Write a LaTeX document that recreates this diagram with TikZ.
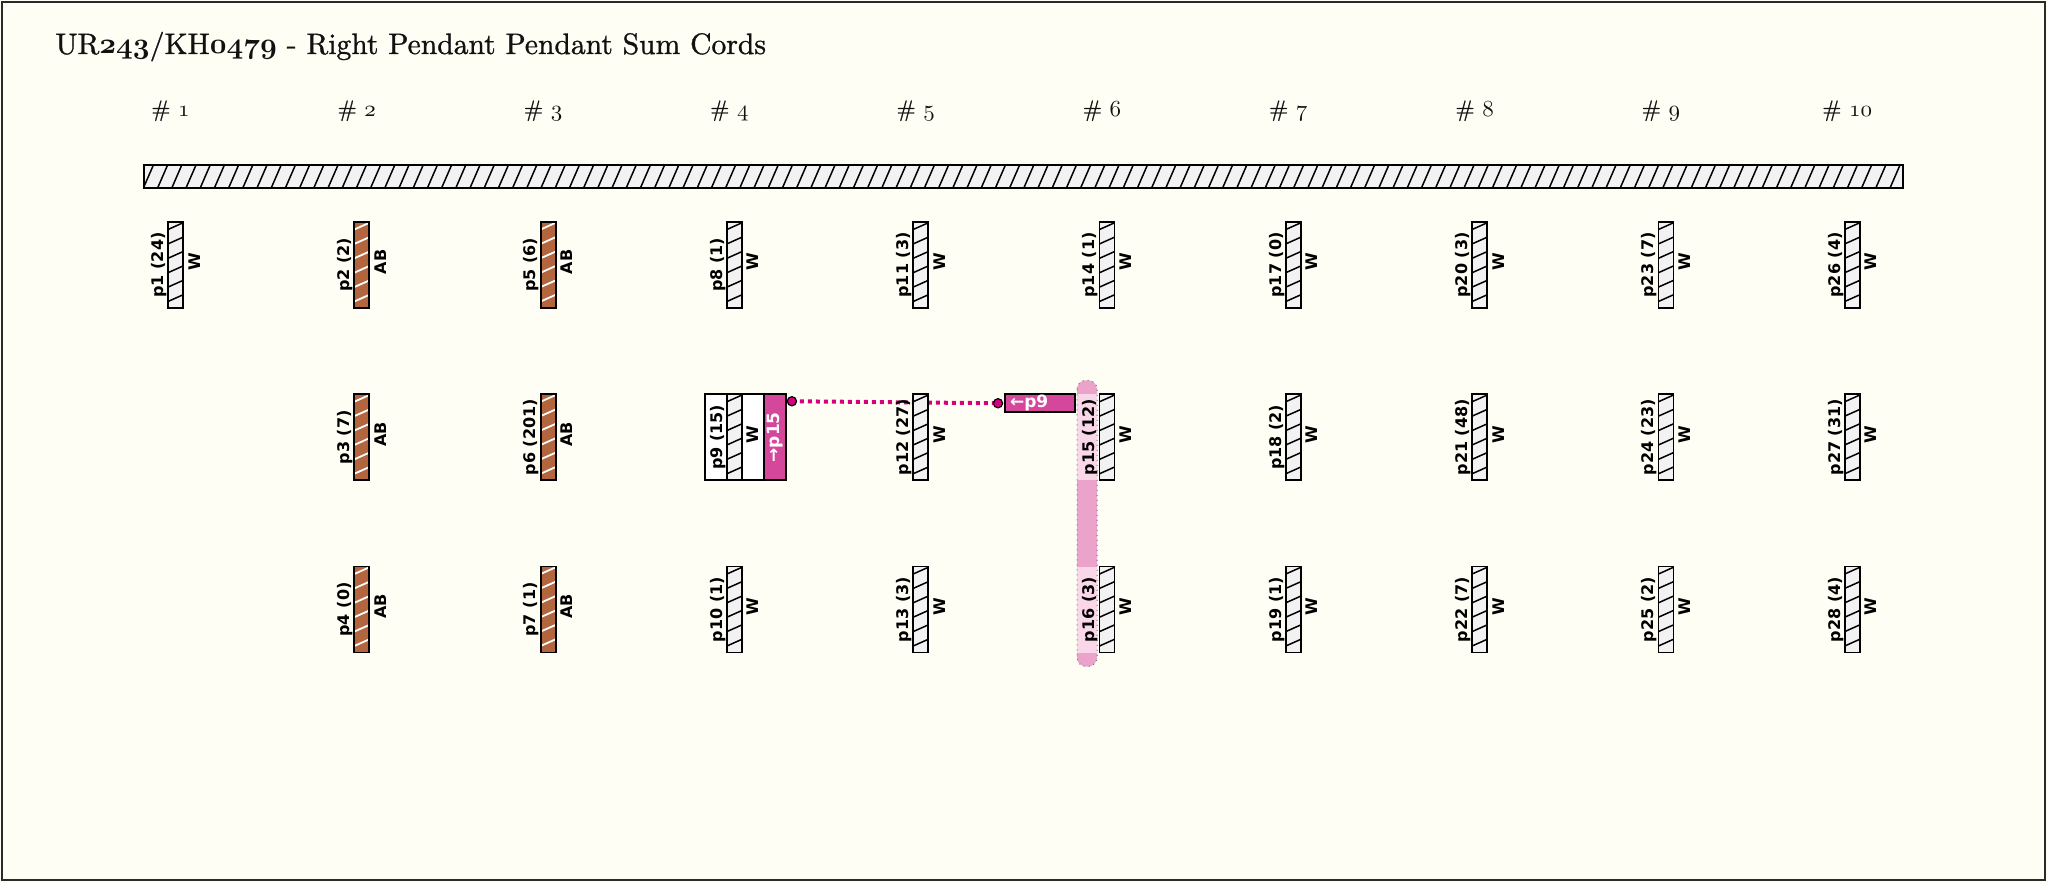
\documentclass[tikz,border=0pt]{standalone}
\usepackage{fontspec}
\newfontfamily\cordfont{DejaVu Sans}
\newfontfamily\titlefont{lmroman10-regular.otf}[FakeBold=1.0]
\usetikzlibrary{calc}
\font\osnbig=cmmib10 at 14.6pt
\font\osnsmall=cmmi10 at 11.5pt
\newcommand\osnA[1]{{\osnbig#1}}
\newcommand\osnB[1]{{\osnsmall#1}}
\definecolor{bgcream}{HTML}{FFFEF5}
\definecolor{framecol}{HTML}{2A2A2A}
\definecolor{titlecol}{HTML}{111111}
\definecolor{cordgrey}{HTML}{F2F2F2}
\definecolor{cordbrown}{HTML}{B3653D}
\definecolor{magbox}{HTML}{D4479A}
\definecolor{dotmag}{HTML}{D6007F}
\definecolor{capdark}{HTML}{EBA3CB}
\definecolor{caplight}{HTML}{F9D7E8}
\definecolor{capline}{HTML}{777777}
\pgfdeclarelayer{bglayer}
\pgfdeclarelayer{back}
\pgfsetlayers{bglayer,back,main}
\tikzset{
  cordfnt/.style={font=\cordfont\bfseries\fontsize{8}{9}\selectfont},
  cordbase/.style={shape=rectangle, draw=black, line width=0.9pt, minimum width=7.5pt, minimum height=43pt, inner sep=0pt, outer sep=0pt},
  cordW/.style={cordbase, fill=cordgrey, path picture={\foreach \k in {0,...,5}{\draw[line width=0.75pt, black] ($(path picture bounding box.north west)+(0,{7.5+14.4*\k})$) -- ($(path picture bounding box.north east)+(0,{0.8+14.4*\k})$);}}},
  cordAB/.style={cordbase, fill=cordbrown, path picture={\foreach \k in {0,...,5}{\draw[line width=0.9pt, white] ($(path picture bounding box.north west)+(0,{7.5+14.4*\k})$) -- ($(path picture bounding box.north east)+(0,{0.8+14.4*\k})$);}}},
  barbox/.style={shape=rectangle, draw=black, line width=1.2pt, fill=cordgrey, minimum width=879.5pt, minimum height=11.5pt, inner sep=0pt, path picture={\foreach \j in {0,...,124}{\draw[line width=0.75pt, black] ($(path picture bounding box.south east)+({-13-14.2*\j},0)$) -- ++(10,-23);}}},
  plab/.style={cordfnt, rotate=90, anchor=south, inner sep=0.5pt},
  clab/.style={cordfnt, rotate=90, anchor=north, inner sep=0.5pt},
  collab/.style={font=\titlefont\fontsize{11.5}{14}\selectfont, text=titlecol, anchor=base, inner sep=0pt},
  boxw/.style={shape=rectangle, draw=black, line width=0.9pt, fill=white, minimum width=11pt, minimum height=43pt, inner sep=0pt, outer sep=0pt},
  magv/.style={shape=rectangle, draw=black, line width=0.9pt, fill=magbox, minimum width=11pt, minimum height=43pt, inner sep=0pt, outer sep=0pt},
  maghbox/.style={shape=rectangle, draw=black, line width=0.9pt, fill=magbox, text=white, font=\cordfont\bfseries\fontsize{8.5}{9}\selectfont, text width=30pt, align=left, inner xsep=2.5pt, inner ysep=0pt, minimum height=9pt, outer sep=0pt},
  dotc/.style={shape=circle, fill=dotmag, draw=black, line width=0.6pt, minimum size=4.6pt, inner sep=0pt},
  sumline/.style={draw=dotmag, line width=2pt, dash pattern=on 2pt off 2pt},
  capborder/.style={draw=capline, line width=0.5pt, dotted}
}
\begin{document}
\begin{tikzpicture}[x=0.5pt, y=-0.5pt]
\useasboundingbox (0,0) rectangle (2048,883);
\begin{pgfonlayer}{bglayer}
\fill[bgcream] (0,0) rectangle (2048,883);
\end{pgfonlayer}
\draw[framecol, line width=1.3pt] (2,2) rectangle (2045,880);
\node[anchor=base west, inner sep=0pt, font=\titlefont\fontsize{14.8}{18}\selectfont, text=titlecol] (title) at (55,54) {UR\osnA{243}/KH\osnA{0479} - Right Pendant Pendant Sum Cords};
\foreach \i in {1,...,10}{
  \node[collab] (h\i) at ({175.5+186.3*(\i-1)-5},116.5) {\# \osnB{\i}};
}
\node[barbox] (primary) at (1023.5,176.5) {};
\foreach \n/\c/\r/\v/\t in {1/1/1/24/W,2/2/1/2/AB,3/2/2/7/AB,4/2/3/0/AB,5/3/1/6/AB,6/3/2/201/AB,7/3/3/1/AB,8/4/1/1/W,9/4/2/15/W,10/4/3/1/W,11/5/1/3/W,12/5/2/27/W,13/5/3/3/W,14/6/1/1/W,15/6/2/12/W,16/6/3/3/W,17/7/1/0/W,18/7/2/2/W,19/7/3/1/W,20/8/1/3/W,21/8/2/48/W,22/8/3/7/W,23/9/1/7/W,24/9/2/23/W,25/9/3/2/W,26/10/1/4/W,27/10/2/31/W,28/10/3/4/W}{
  \node[cord\t] (p\n) at ({175.5+186.3*(\c-1)},{265+172.25*(\r-1)}) {};
  \node[plab] (l\n) at (p\n.west) {p\n\ (\v)};
  \node[clab] (k\n) at ([xshift=2pt,yshift=1.5pt]p\n.east) {\t};
}
% p9 sum boxes
\begin{pgfonlayer}{back}
\node[boxw, anchor=east] (b9l) at (p9.west) {};
\node[boxw, anchor=west] (b9w) at (p9.east) {};
\end{pgfonlayer}
\node[magv, anchor=west] (b9m) at (b9w.east) {};
\node[cordfnt, font=\cordfont\bfseries\fontsize{8.5}{9}\selectfont, rotate=90, text=white, inner sep=0pt] (t9m) at (b9m) {→p15};
% p15 box
\node[maghbox, anchor=north east] (b15m) at ($(p15.north west)+(-24.5,0)$) {←p9};
\node[dotc] (c1) at ($(b9m.north east)+(6,7)$) {};
\node[dotc] (c2) at ($(b15m.west)+(-7,0)$) {};
\begin{pgfonlayer}{back}
\fill[capdark, rounded corners=4.5pt] ($(p15.north west)+(-22.5,-14)$) rectangle ($(p16.south west)+(-2.5,14)$);
\fill[caplight] ($(p15.north west)+(-22.5,0)$) rectangle ($(p15.south west)+(-2.5,0)$);
\fill[caplight] ($(p16.north west)+(-22.5,0)$) rectangle ($(p16.south west)+(-2.5,0)$);
\draw[capborder, rounded corners=4.5pt] ($(p15.north west)+(-22.5,-14)$) rectangle ($(p16.south west)+(-2.5,14)$);
\draw[sumline] (c1.center) -- (c2.center);
\end{pgfonlayer}
\end{tikzpicture}
\end{document}
